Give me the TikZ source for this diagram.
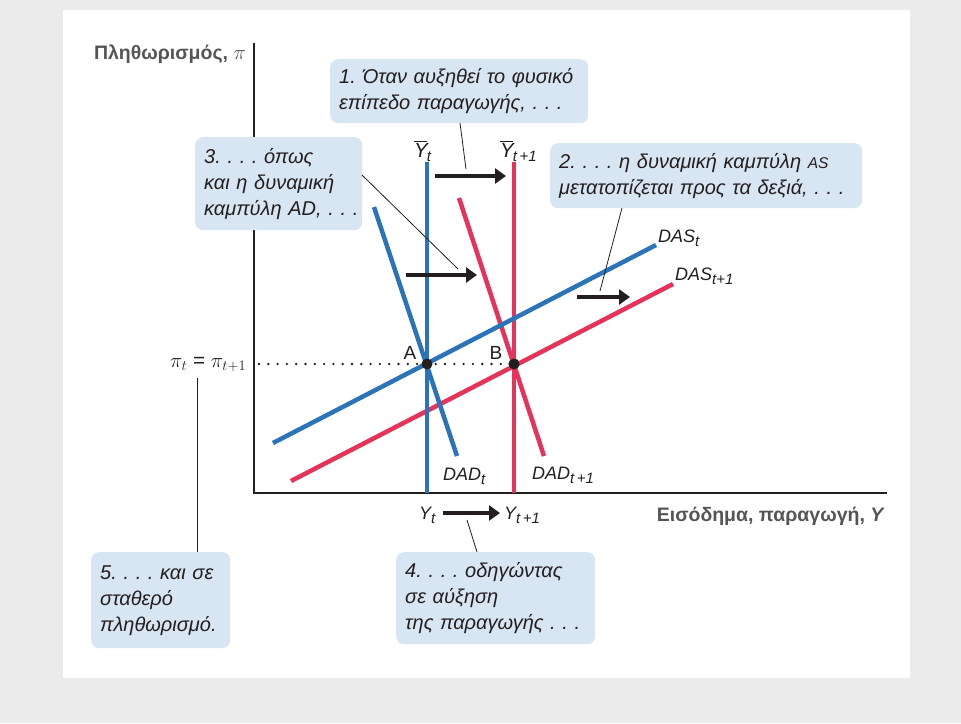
\documentclass[tikz,border=0pt]{standalone}
\usepackage{fontspec}
\setmainfont{Liberation Sans}
\usetikzlibrary{arrows.meta}
\definecolor{bgray}{HTML}{EBEBEB}
\definecolor{cblue}{HTML}{2B74BA}
\definecolor{cred}{HTML}{E6335A}
\definecolor{boxblue}{HTML}{D8E5F3}
\definecolor{textc}{HTML}{231F20}
\definecolor{axisc}{HTML}{555555}
\frenchspacing
\newcommand{\lo}[1]{\raisebox{-0.45ex}{\fontsize{15}{15}\selectfont #1}}
\newcommand{\ybar}{$\overline{\mbox{\itshape Y\kern-1pt}}$}
\newcommand{\oneline}[1]{\mbox{#1}}
\begin{document}
\begin{tikzpicture}[x=1pt,y=-1pt,
  curveb/.style={line width=4.5pt, draw=cblue},
  curver/.style={line width=4.5pt, draw=cred},
  note/.style={fill=boxblue, rounded corners=8pt, anchor=north west, align=left,
    inner xsep=9pt, inner ysep=0pt, text=textc,
    font=\fontsize{20}{26}\selectfont\itshape},
  leader/.style={line width=0.8pt, draw=textc},
  shiftarrow/.style={line width=4.5pt, draw=textc, -{Triangle[length=11pt,width=15pt]}},
  axis/.style={line width=1.3pt, draw=textc},
  lab/.style={anchor=base west, inner sep=0pt, text=textc, font=\fontsize{18}{18}\selectfont\itshape},
  axlab/.style={anchor=base east, inner sep=0pt, text=axisc, font=\fontsize{19.5}{19.5}\selectfont\bfseries},
  pt/.style={circle, fill=textc, inner sep=0pt, minimum size=11pt}]
\useasboundingbox (0,0) rectangle (961,723);
\fill[bgray] (0,0) rectangle (961,723);
\fill[white] (63,10) rectangle (910,678);

% axes
\coordinate (O) at (254,493);
\coordinate (ytop) at (254,43);
\coordinate (xend) at (887,493);
\draw[axis] (ytop) -- (O) -- (xend);
\node[axlab] (ylab) at (246,59) {Πληθωρισμός, \mdseries{\fontsize{20.74}{21}\selectfont$\pi$}};
\node[axlab] (xlab) at (885,521) {Εισόδημα, παραγωγή, \textit{Y}};

% curves
\coordinate (dast1) at (273,443);  \coordinate (dast2) at (656,245);
\coordinate (dasn1) at (291,481);  \coordinate (dasn2) at (673,284);
\coordinate (dadt1) at (374,207);  \coordinate (dadt2) at (457,456);
\coordinate (dadn1) at (459,198);  \coordinate (dadn2) at (544,456);
\coordinate (ybt1) at (427,162);   \coordinate (ybt2) at (427,493);
\coordinate (ybn1) at (514,162);   \coordinate (ybn2) at (514,493);

\coordinate (dstart) at (259,364);
\node[pt] (B) at (514,364) {};
\draw[line width=2.6pt, line cap=round, dash pattern=on 0pt off 9.3pt, draw=textc] (dstart) -- (B);

\draw[curver] (dasn1) -- (dasn2);
\draw[curver] (dadn1) -- (dadn2);
\draw[curver] (ybn1) -- (ybn2);
\draw[curveb] (dast1) -- (dast2);
\draw[curveb] (dadt1) -- (dadt2);
\draw[curveb] (ybt1) -- (ybt2);

\node[pt] (A) at (427,364) {};
\node[pt] at (B) {};
\node[anchor=base, inner sep=0pt, text=textc, font=\fontsize{19}{19}\selectfont] (Alab) at (410,359) {A};
\node[anchor=base, inner sep=0pt, text=textc, font=\fontsize{19}{19}\selectfont] (Blab) at (496,359) {B};

% curve labels
\node[lab, font=\fontsize{20.5}{20.5}\selectfont\itshape] (ltop1) at (414,157) {\ybar\lo{\itshape t}};
\node[lab, font=\fontsize{20.5}{20.5}\selectfont\itshape] (ltop2) at (500,157) {\ybar\lo{\itshape t\,+1}};
\node[lab] (ldast) at (658,242) {DAS\lo{t}};
\node[lab] (ldasn) at (675,280) {DAS\lo{t+1}};
\node[lab] (ldadt) at (443,480) {DAD\lo{t}};
\node[lab] (ldadn) at (532,479) {DAD\lo{t\,+1}};
\node[lab] (lyt) at (419,519) {Y\lo{t}};
\node[lab] (lyn) at (504,519) {Y\lo{t\,+1}};
\node[anchor=base west, inner sep=0pt, text=textc, font=\fontsize{20.74}{21}\selectfont] (pilab) at (170,367) {$\pi_t$ = $\pi_{t+1}$};

% shift arrows
\coordinate (a1s) at (435,176); \coordinate (a1e) at (506,176);
\coordinate (a2s) at (406,275); \coordinate (a2e) at (477,275);
\coordinate (a3s) at (577,297); \coordinate (a3e) at (630,297);
\coordinate (a4s) at (443,513); \coordinate (a4e) at (500,513);
\draw[shiftarrow] (a1s) -- (a1e);
\draw[shiftarrow] (a2s) -- (a2e);
\draw[shiftarrow] (a3s) -- (a3e);
\draw[shiftarrow] (a4s) -- (a4e);

% notes
\node[note, text width=240pt, minimum height=64pt] (n1) at (330,59)
  {\oneline{1. Όταν αυξηθεί το φυσικό}\\\oneline{επίπεδο παραγωγής, . . .}};
\node[note, text width=294pt, minimum height=65pt] (n2) at (550,143)
  {\oneline{2. . . . η δυναμική καμπύλη {\fontsize{15.5}{15.5}\selectfont AS}}\\\oneline{μετατοπίζεται προς τα δεξιά, . . .}};
\node[note, text width=149pt, minimum height=93pt] (n3) at (195,137)
  {\oneline{3. . . . όπως}\\\oneline{και η δυναμική}\\\oneline{καμπύλη AD, . . .}};
\node[note, text width=181pt, minimum height=92pt] (n4) at (396,552)
  {\oneline{4. . . . οδηγώντας}\\\oneline{σε αύξηση}\\\oneline{της παραγωγής . . .}};
\node[note, text width=121pt, minimum height=96pt] (n5) at (91,552)
  {\oneline{5. . . . και σε}\\\oneline{σταθερό}\\\oneline{πληθωρισμό.}};

% leaders
\coordinate (l1a) at (460,123); \coordinate (l1b) at (466,169);
\coordinate (l2a) at (622,208); \coordinate (l2b) at (600,291);
\coordinate (l3a) at (362,175); \coordinate (l3b) at (458,269);
\coordinate (l4a) at (467,520); \coordinate (l4b) at (477,552);
\coordinate (l5a) at (197,378); \coordinate (l5b) at (197,552);
\draw[leader] (l1a) -- (l1b);
\draw[leader] (l2a) -- (l2b);
\draw[leader] (l3a) -- (l3b);
\draw[leader] (l4a) -- (l4b);
\draw[leader] (l5a) -- (l5b);
\end{tikzpicture}
\end{document}
